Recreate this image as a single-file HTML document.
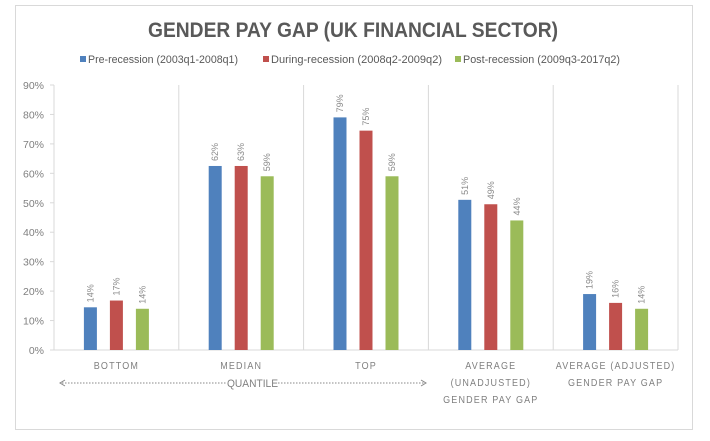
<!DOCTYPE html>
<html><head><meta charset="utf-8"><style>
html,body{margin:0;padding:0;background:#fff;}
svg{display:block;font-family:"Liberation Sans",sans-serif;}
</style></head><body>
<svg id="chart" width="710" height="441">
<rect x="15.5" y="5.5" width="677" height="424" fill="#fff" stroke="#d9d9d9"/>
<text x="148" y="37" textLength="410" lengthAdjust="spacingAndGlyphs" font-size="21" font-weight="bold" fill="#595959">GENDER PAY GAP (UK FINANCIAL SECTOR)</text>
<g id="legend"></g>
<g id="grid"></g><g id="bars"></g><g id="labels"></g>
<g>
<line x1="62" y1="383" x2="226" y2="383" stroke="#888" stroke-dasharray="1.5,1.5"/>
<line x1="278" y1="383" x2="424" y2="383" stroke="#888" stroke-dasharray="1.5,1.5"/>
<path d="M65,380 L60,383 L65,386 M421,380 L426,383 L421,386" fill="none" stroke="#888"/>
<text x="227" y="387" textLength="51" lengthAdjust="spacingAndGlyphs" font-size="11" fill="#7f7f7f">QUANTILE</text>
</g>
</svg>
<script>
const categories=[["BOTTOM"],["MEDIAN"],["TOP"],["AVERAGE","(UNADJUSTED)","GENDER PAY GAP"],["AVERAGE (ADJUSTED)","GENDER PAY GAP"]];
const seriesNames=["Pre-recession (2003q1-2008q1)","During-recession (2008q2-2009q2)","Post-recession (2009q3-2017q2)"];
const preValues=[14.5,62.5,79,51,19];
const duringValues=[16.8,62.5,74.5,49.5,16];
const postValues=[14,59,59,44,14];
const preLabels=["14%","62%","79%","51%","19%"];
const duringLabels=["17%","63%","75%","49%","16%"];
const postLabels=["14%","59%","59%","44%","14%"];
const yTicks=[0,10,20,30,40,50,60,70,80,90];
const colors=["#4f81bd","#c0504d","#9bbb59"];
const NS="http://www.w3.org/2000/svg";
const X0=54,X1=678,Y0=350,Y1=85,YMAX=90;
const y=v=>Y0-(v/YMAX)*(Y0-Y1);
const cw=(X1-X0)/categories.length;
const cx=i=>X0+cw*(i+0.5);
function mk(tag,attrs,parent){const e=document.createElementNS(NS,tag);for(const k in attrs)e.setAttribute(k,attrs[k]);parent.appendChild(e);return e;}
const grid=document.getElementById('grid'),bars=document.getElementById('bars'),labels=document.getElementById('labels'),legend=document.getElementById('legend');
yTicks.forEach(t=>{
 const tl=mk('text',{x:X0-10,y:y(t)+4,'text-anchor':'end','font-size':10.5,fill:'#7f7f7f'},grid);
 tl.textContent=t+'%';
 
 
 mk('line',{x1:X0-4,x2:X0,y1:y(t),y2:y(t),stroke:'#d9d9d9'},grid);
});
mk('line',{x1:X0,x2:X0,y1:Y1,y2:Y0,stroke:'#d9d9d9'},grid);
mk('line',{x1:X0,x2:X1,y1:Y0,y2:Y0,stroke:'#d9d9d9'},grid);
for(let i=1;i<=categories.length;i++){const sx=X0+cw*i;mk('line',{x1:sx,x2:sx,y1:Y1,y2:Y0,stroke:'#d9d9d9'},grid);}
categories.forEach((c,i)=>{
 c.forEach((ln,j)=>{
  const t=mk('text',{x:cx(i),y:369+j*17,'text-anchor':'middle','font-size':10,fill:'#7f7f7f','letter-spacing':'1.3',transform:'translate('+cx(i)+' 0) scale(0.9 1) translate('+(-cx(i))+' 0)'},labels);
  t.textContent=ln;
  
  
 });
});
const series=[preValues,duringValues,postValues],slabels=[preLabels,duringLabels,postLabels];
const bw=13,step=26;
series.forEach((vals,s)=>{
 vals.forEach((v,i)=>{
  const bx=cx(i)+(s-1)*step-bw/2;
  const r=mk('rect',{x:bx,y:y(v),width:bw,height:Y0-y(v),fill:colors[s]},bars);
  
  
  const lx=bx+bw/2+3,ly=y(v)-5;
  const t=mk('text',{x:lx,y:ly,'font-size':9,fill:'#8a8a8a',transform:'rotate(-90 '+lx+' '+ly+')'},labels);
  t.textContent=slabels[s][i];
  
  
 });
});
const lx=[80,263,455];
const lw=[150,171,157];
seriesNames.forEach((n,s)=>{
 mk('rect',{x:lx[s],y:56,width:6,height:6,fill:colors[s]},legend);
 const t=mk('text',{x:lx[s]+8,y:63,'font-size':11,fill:'#595959',textLength:lw[s],lengthAdjust:'spacingAndGlyphs'},legend);
 t.textContent=n;
 
 
});
</script>
</body></html>
